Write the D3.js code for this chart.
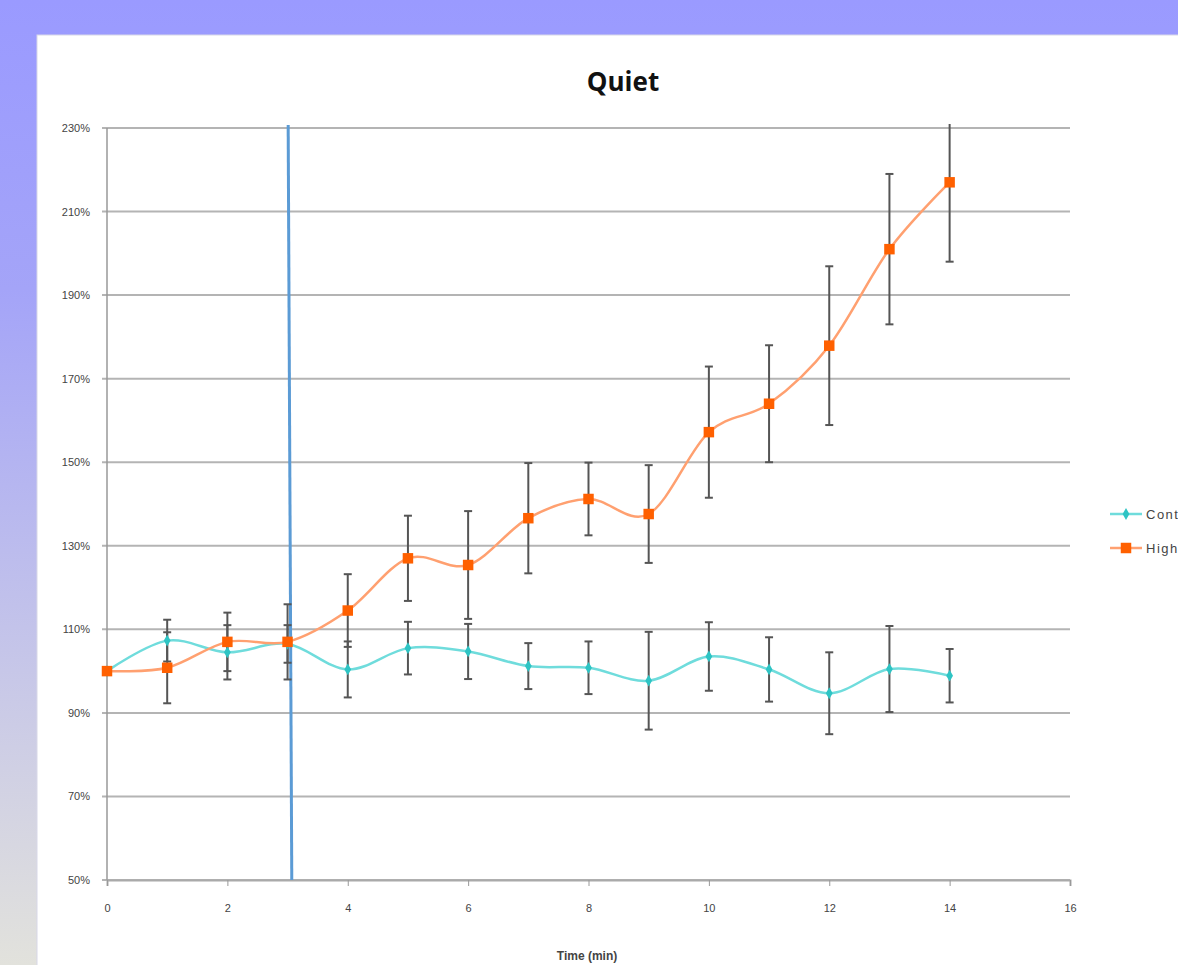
<!DOCTYPE html>
<html>
<head>
<meta charset="utf-8">
<script src="https://cdn.jsdelivr.net/npm/d3@7"></script>
<style>
  body { margin: 0; overflow: hidden; }
  svg { display: block; }
  .tick text { font-family: "Liberation Sans", Arial, sans-serif; font-size: 11px; fill: #444; }
</style>
</head>
<body>
<svg width="1178" height="965"></svg>
<script>
// values (percent of baseline)
var times = [0, 1, 2, 3, 4, 5, 6, 7, 8, 9, 10, 11, 12, 13, 14];
var controlVals = [100, 107.3, 104.5, 106.5, 100.4, 105.5, 104.7, 101.2, 100.8, 97.7, 103.5, 100.4, 94.7, 100.5, 98.9];
var controlErr  = [0, 5, 6.5, 4.5, 6.7, 6.3, 6.6, 5.5, 6.3, 11.7, 8.2, 7.7, 9.8, 10.3, 6.4];
var highVals = [100, 100.8, 107, 107, 114.5, 127, 125.4, 136.6, 141.2, 137.6, 157.2, 164, 177.9, 201, 217];
var highErr  = [0, 8.5, 7, 9, 8.7, 10.2, 12.9, 13.2, 8.7, 11.7, 15.7, 14, 19, 18, 19];
var xTicks = [0, 2, 4, 6, 8, 10, 12, 14, 16];
var yTicks = [50, 70, 90, 110, 130, 150, 170, 190, 210, 230];
var markerLine = [[3.01, 230.7], [3.07, 50]];
var seriesNames = ["Control", "High"];

var svg = d3.select("svg"),
    width = +svg.attr("width"),
    height = +svg.attr("height");

// backdrop
var defs = svg.append("defs");
var grad = defs.append("linearGradient").attr("id", "bg")
    .attr("x1", 0).attr("y1", 0).attr("x2", 0).attr("y2", 1);
grad.append("stop").attr("offset", "0%").attr("stop-color", "#9a9aff");
grad.append("stop").attr("offset", "30%").attr("stop-color", "#a4a4f8");
grad.append("stop").attr("offset", "100%").attr("stop-color", "#e2e2dc");
svg.append("rect").attr("width", width).attr("height", height).attr("fill", "url(#bg)");
svg.append("rect").attr("x", 37).attr("y", 35).attr("width", width).attr("height", height)
    .attr("fill", "#fff").attr("stroke", "#d8d8e8");

var margin = {left: 107, right: 108, top: 128, bottom: 85};
var x = d3.scaleLinear().domain([0, 16]).range([margin.left, width - margin.right]);
var y = d3.scaleLinear().domain([50, 230]).range([height - margin.bottom, margin.top]);

defs.append("clipPath").attr("id", "plot").append("rect")
    .attr("x", margin.left - 10).attr("y", margin.top - 4)
    .attr("width", x(16) - margin.left + 20).attr("height", y(50) - margin.top + 4);

// gridlines
svg.append("g").selectAll("line").data(yTicks).enter().append("line")
    .attr("x1", x(0) - 5).attr("x2", x(16))
    .attr("y1", function(d) { return y(d); }).attr("y2", function(d) { return y(d); })
    .attr("stroke", "#b4b4b4").attr("stroke-width", 2);

// axes
var yAxis = svg.append("g").attr("transform", "translate(" + (x(0) - 14) + ",0)")
    .call(d3.axisLeft(y).tickValues(yTicks).tickSize(0).tickFormat(function(d) { return d + "%"; }));
yAxis.select(".domain").remove();

svg.append("line").attr("x1", x(0)).attr("x2", x(0)).attr("y1", y(230)).attr("y2", y(50))
    .attr("stroke", "#999").attr("stroke-width", 1.5);

var xAxis = svg.append("g").attr("transform", "translate(0," + y(50) + ")")
    .call(d3.axisBottom(x).tickValues(xTicks).tickSize(6).tickPadding(18));
xAxis.select(".domain").attr("stroke", "#aaa").attr("stroke-width", 2);
xAxis.selectAll(".tick line").attr("stroke", "#999");

// title and axis label
svg.append("text").attr("x", 623).attr("y", 91).attr("text-anchor", "middle")
    .attr("font-family", "Open Sans, sans-serif").attr("font-weight", "bold")
    .attr("font-size", 26).attr("fill", "#111").text("Quiet");
svg.append("text").attr("x", 587).attr("y", 960).attr("text-anchor", "middle")
    .attr("font-family", "Liberation Sans Narrow, Liberation Sans, sans-serif").attr("font-weight", "bold")
    .attr("font-size", 12).attr("fill", "#444").text("Time (min)");

// stimulus line
svg.append("line")
    .attr("x1", x(markerLine[0][0])).attr("y1", y(markerLine[0][1]))
    .attr("x2", x(markerLine[1][0])).attr("y2", y(markerLine[1][1]))
    .attr("stroke", "#5b9bd5").attr("stroke-width", 3);

var plot = svg.append("g").attr("clip-path", "url(#plot)");

var series = [
  {name: seriesNames[0], vals: controlVals, err: controlErr, line: "#6fdcdc", mark: "#2ec4c4", shape: d3.symbolDiamond, size: 40},
  {name: seriesNames[1], vals: highVals, err: highErr, line: "#ffa070", mark: "#ff6000", shape: d3.symbolSquare, size: 110}
];

// error bars
series.forEach(function(s) {
  var eb = plot.append("g").attr("stroke", "#555").attr("stroke-width", 2);
  times.forEach(function(t, i) {
    if (!s.err[i]) return;
    var hi = y(s.vals[i] + s.err[i]), lo = y(s.vals[i] - s.err[i]);
    eb.append("line").attr("x1", x(t)).attr("x2", x(t)).attr("y1", hi).attr("y2", lo);
    eb.append("line").attr("x1", x(t) - 4).attr("x2", x(t) + 4).attr("y1", hi).attr("y2", hi);
    eb.append("line").attr("x1", x(t) - 4).attr("x2", x(t) + 4).attr("y1", lo).attr("y2", lo);
  });
});

var line = d3.line()
    .x(function(d) { return x(d[0]); })
    .y(function(d) { return y(d[1]); })
    .curve(d3.curveCardinal.tension(0));

series.forEach(function(s) {
  var pts = times.map(function(t, i) { return [t, s.vals[i]]; });
  plot.append("path").attr("d", line(pts)).attr("fill", "none")
      .attr("stroke", s.line).attr("stroke-width", 2.5);
});

series.forEach(function(s) {
  plot.append("g").selectAll("path").data(times).enter().append("path")
      .attr("transform", function(t, i) { return "translate(" + x(t) + "," + y(s.vals[i]) + ")"; })
      .attr("d", d3.symbol().type(s.shape).size(s.size))
      .attr("fill", s.mark);
});

// legend (runs past the right edge, as in the source)
var legend = svg.append("g").attr("transform", "translate(1110,514)");
series.forEach(function(s, i) {
  var g = legend.append("g").attr("transform", "translate(0," + (i * 34) + ")");
  g.append("line").attr("x1", 0).attr("x2", 32).attr("stroke", s.line).attr("stroke-width", 2.5);
  g.append("path").attr("transform", "translate(16,0)")
      .attr("d", d3.symbol().type(s.shape).size(s.size)).attr("fill", s.mark);
  g.append("text").attr("x", 36).attr("y", 5)
      .attr("font-family", "Liberation Sans, sans-serif").attr("font-size", 13)
      .attr("letter-spacing", 1.5).attr("fill", "#444").text(s.name);
});
</script>
</body>
</html>
